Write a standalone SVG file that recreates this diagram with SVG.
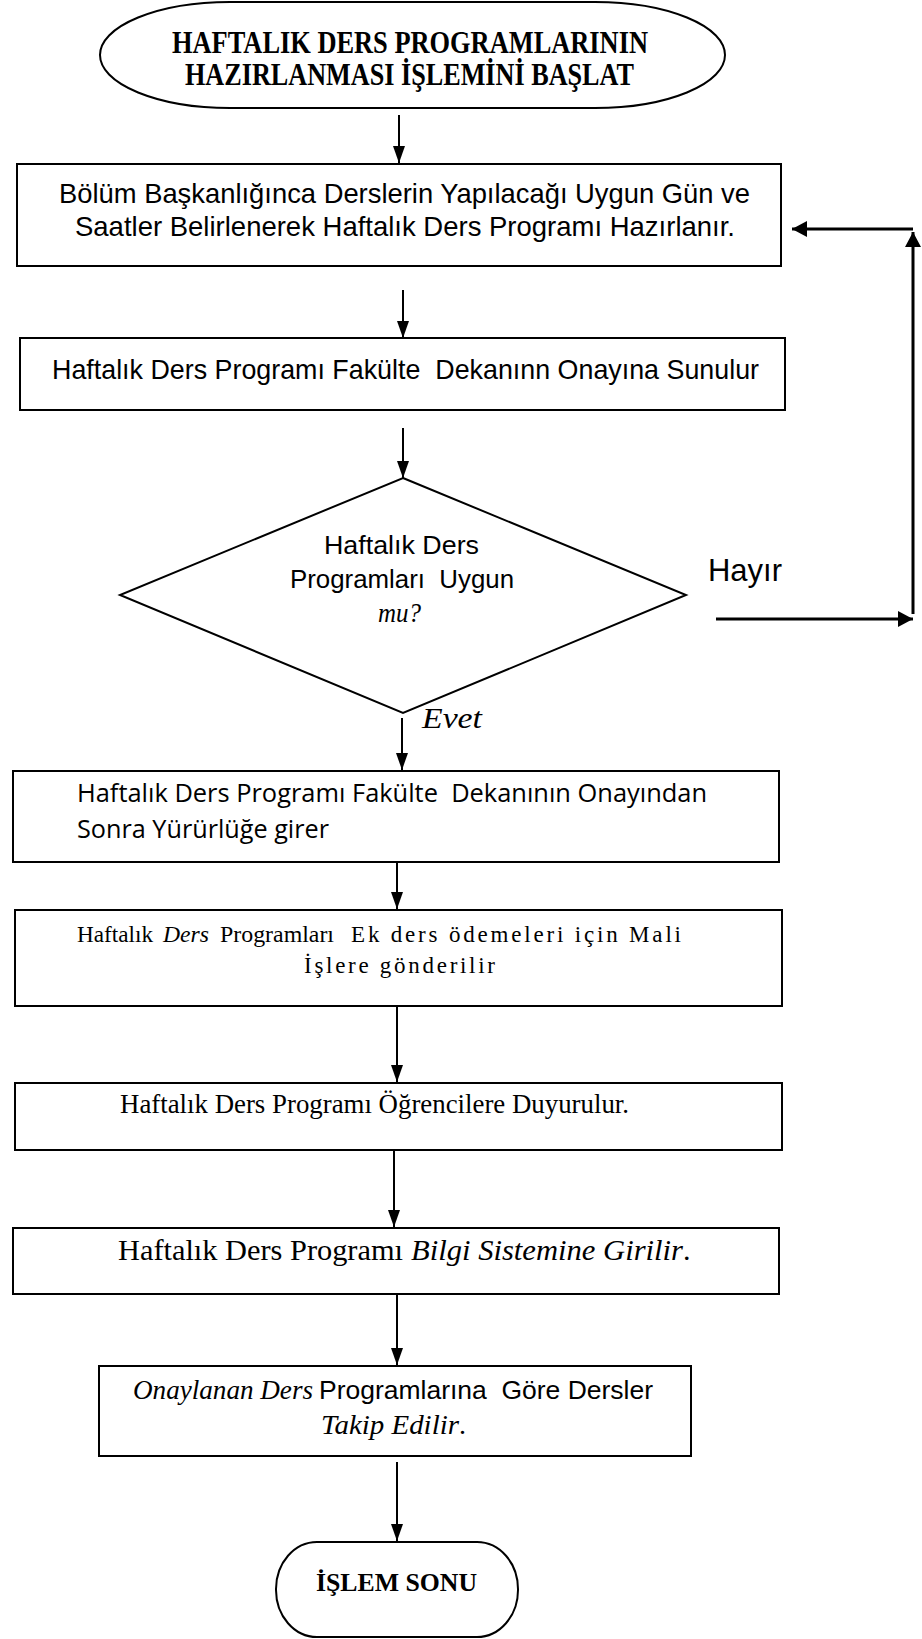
<svg xmlns="http://www.w3.org/2000/svg" width="922" height="1639" viewBox="0 0 922 1639">
  <style>
    .shape { fill: #ffffff; stroke: #000000; stroke-width: 2; }
    .link { fill: none; stroke: #000000; stroke-width: 2; }
    .loop { fill: none; stroke: #000000; stroke-width: 3; }
    .sans { font-family: "Liberation Sans", Arial, sans-serif; fill: #000000; white-space: pre; }
    .serif { font-family: "Liberation Serif", "Times New Roman", serif; fill: #000000; white-space: pre; }
    .calib { font-family: "Open Sans", "Noto Sans", sans-serif; fill: #000000; white-space: pre; }
    .it { font-style: italic; }
    .bold { font-weight: bold; }
  </style>
  <defs>
    <marker id="arrow" viewBox="0 0 17 12" refX="17" refY="6" markerWidth="17" markerHeight="12" markerUnits="userSpaceOnUse" orient="auto">
      <path d="M0,0 L17,6 L0,12 z" fill="#000000"/>
    </marker>
    <marker id="arrowBig" viewBox="0 0 15 16" refX="15" refY="8" markerWidth="15" markerHeight="16" markerUnits="userSpaceOnUse" orient="auto">
      <path d="M0,0 L15,8 L0,16 z" fill="#000000"/>
    </marker>
  </defs>

  <rect width="922" height="1639" fill="#ffffff"/>

  <!-- start terminal -->
  <g id="start">
    <rect class="shape" x="100" y="2" width="625" height="106" rx="130" ry="53"/>
    <text class="serif bold" x="172" y="53" font-size="31" textLength="476" lengthAdjust="spacingAndGlyphs">HAFTALIK DERS PROGRAMLARININ</text>
    <text class="serif bold" x="185" y="85" font-size="31" textLength="449" lengthAdjust="spacingAndGlyphs">HAZIRLANMASI İŞLEMİNİ BAŞLAT</text>
  </g>

  <!-- step 1: department prepares the schedule -->
  <g id="prepare">
    <rect class="shape" x="17" y="164" width="764" height="102"/>
    <text class="sans" x="59" y="203" font-size="28" textLength="691" lengthAdjust="spacingAndGlyphs">Bölüm Başkanlığınca Derslerin Yapılacağı Uygun Gün ve</text>
    <text class="sans" x="75" y="236" font-size="28" textLength="660" lengthAdjust="spacingAndGlyphs">Saatler Belirlenerek Haftalık Ders Programı Hazırlanır.</text>
  </g>

  <!-- step 2: submitted to the dean -->
  <g id="submit">
    <rect class="shape" x="20" y="338" width="765" height="72"/>
    <text class="sans" x="52" y="379" font-size="28" textLength="707" lengthAdjust="spacingAndGlyphs">Haftalık Ders Programı Fakülte  Dekanınn Onayına Sunulur</text>
  </g>

  <!-- decision -->
  <g id="decision">
    <polygon class="shape" points="403,478 686,595 403,713 120,595"/>
    <text class="sans" x="324" y="554" font-size="26" textLength="155" lengthAdjust="spacingAndGlyphs">Haftalık Ders</text>
    <text class="sans" x="290" y="588" font-size="26" textLength="224" lengthAdjust="spacingAndGlyphs">Programları  Uygun</text>
    <text class="serif it" x="378" y="622" font-size="27" textLength="43" lengthAdjust="spacingAndGlyphs">mu?</text>
  </g>

  <!-- step 3: takes effect -->
  <g id="effect">
    <rect class="shape" x="13" y="771" width="766" height="91"/>
    <text class="calib" x="77" y="802" font-size="25" textLength="630" lengthAdjust="spacingAndGlyphs">Haftalık Ders Programı Fakülte  Dekanının Onayından</text>
    <text class="calib" x="77" y="838" font-size="25" textLength="252" lengthAdjust="spacingAndGlyphs">Sonra Yürürlüğe girer</text>
  </g>

  <!-- step 4: sent to finance -->
  <g id="finance">
    <rect class="shape" x="15" y="910" width="767" height="96"/>
    <text class="serif" x="77" y="942" font-size="24" textLength="76" lengthAdjust="spacingAndGlyphs">Haftalık</text>
    <text class="serif it" x="163" y="942" font-size="24" textLength="46" lengthAdjust="spacingAndGlyphs">Ders</text>
    <text class="serif" x="220" y="942" font-size="24" textLength="114" lengthAdjust="spacingAndGlyphs">Programları</text>
    <text class="serif" x="351" y="942" font-size="23" textLength="330" lengthAdjust="spacing">Ek ders ödemeleri için Mali</text>
    <text class="serif" x="304" y="973" font-size="23" textLength="191" lengthAdjust="spacing">İşlere gönderilir</text>
  </g>

  <!-- step 5: announced to students -->
  <g id="announce">
    <rect class="shape" x="15" y="1083" width="767" height="67"/>
    <text class="serif" x="120" y="1113" font-size="28" textLength="509" lengthAdjust="spacingAndGlyphs">Haftalık Ders Programı Öğrencilere Duyurulur.</text>
  </g>

  <!-- step 6: entered into the information system -->
  <g id="system">
    <rect class="shape" x="13" y="1228" width="766" height="66"/>
    <text class="serif" x="118" y="1260" font-size="30" textLength="285" lengthAdjust="spacingAndGlyphs">Haftalık Ders Programı</text>
    <text class="serif it" x="411" y="1260" font-size="30" textLength="272" lengthAdjust="spacingAndGlyphs">Bilgi Sistemine Girilir</text>
    <text class="serif" x="683" y="1260" font-size="30">.</text>
  </g>

  <!-- step 7: lessons followed -->
  <g id="follow">
    <rect class="shape" x="99" y="1366" width="592" height="90"/>
    <text class="serif it" x="133" y="1399" font-size="28" textLength="180" lengthAdjust="spacingAndGlyphs">Onaylanan Ders</text>
    <text class="sans" x="319" y="1399" font-size="26" textLength="334" lengthAdjust="spacingAndGlyphs">Programlarına  Göre Dersler</text>
    <text class="serif it" x="321" y="1434" font-size="28" textLength="138" lengthAdjust="spacingAndGlyphs">Takip Edilir</text>
    <text class="serif" x="459" y="1434" font-size="28">.</text>
  </g>

  <!-- end terminal -->
  <g id="end">
    <rect class="shape" x="276" y="1542" width="242" height="95" rx="41" ry="47"/>
    <text class="serif bold" x="316" y="1591" font-size="26" textLength="161" lengthAdjust="spacingAndGlyphs">İŞLEM SONU</text>
  </g>

  <!-- labels on the decision branches -->
  <g id="labels">
    <text class="sans" x="708" y="581" font-size="32" textLength="74" lengthAdjust="spacingAndGlyphs">Hayır</text>
    <text class="serif it" x="422" y="728" font-size="30" textLength="60" lengthAdjust="spacingAndGlyphs">Evet</text>
  </g>

  <!-- connectors -->
  <g id="connectors">
    <line class="link" x1="399" y1="115" x2="399" y2="163" marker-end="url(#arrow)"/>
    <line class="link" x1="403" y1="290" x2="403" y2="338" marker-end="url(#arrow)"/>
    <line class="link" x1="403" y1="428" x2="403" y2="478" marker-end="url(#arrow)"/>
    <line class="link" x1="402" y1="718" x2="402" y2="770" marker-end="url(#arrow)"/>
    <line class="link" x1="397" y1="862" x2="397" y2="909" marker-end="url(#arrow)"/>
    <line class="link" x1="397" y1="1006" x2="397" y2="1082" marker-end="url(#arrow)"/>
    <line class="link" x1="394" y1="1150" x2="394" y2="1227" marker-end="url(#arrow)"/>
    <line class="link" x1="397" y1="1294" x2="397" y2="1365" marker-end="url(#arrow)"/>
    <line class="link" x1="397" y1="1462" x2="397" y2="1541" marker-end="url(#arrow)"/>
    <!-- "Hayır" loop back to the first step -->
    <line class="loop" x1="716" y1="619" x2="913" y2="619" marker-end="url(#arrowBig)"/>
    <line class="loop" x1="913" y1="614" x2="913" y2="232" marker-end="url(#arrowBig)"/>
    <line class="loop" x1="913" y1="229" x2="792" y2="229" marker-end="url(#arrowBig)"/>
  </g>
</svg>
